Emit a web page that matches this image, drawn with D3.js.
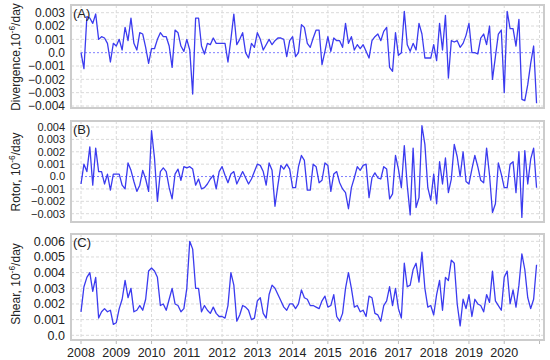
<!DOCTYPE html>
<html>
<head>
<meta charset="utf-8">
<script src="https://cdn.jsdelivr.net/npm/d3@7"></script>
<style>
body { margin: 0; background: #fff; }
svg text { font-family: "Liberation Sans", Arial, sans-serif; fill: #222; }
</style>
</head>
<body>
<svg id="chart" width="550" height="360"></svg>
<script>
// monthly values, Jan 2008 .. Dec 2020
var startYear = 2008;

var divergence = [
    0.0, -0.0012, 0.0027, 0.0026, 0.0022, 0.0029, 0.0010, 0.0012, 0.0011, 0.0007,
    -0.0007, 0.0007, 0.0005, 0.0010, 0.0002, 0.0019, 0.0009, 0.0026, 0.0007, 0.0002,
    0.0015, 0.0014, 0.0004, -0.0008, 0.0003, 0.0003, 0.0010, 0.0015, 0.0012, 0.0012,
    0.0005, -0.0011, 0.0017, 0.0015, 0.0005, 0.0001, 0.0010, 0.0002, -0.0031, 0.0026,
    0.0026, 0.0005, -0.0001, 0.0007, 0.0006, 0.0011, 0.0007, 0.0007, 0.0007, 0.0007,
    -0.0007, 0.0010, 0.0029, 0.0006, 0.0010, 0.0015, 0.0000, -0.0004, 0.0007, 0.0004,
    0.0015, 0.0010, 0.0002, 0.0006, 0.0010, 0.0006, 0.0009, 0.0011, 0.0011, 0.0010,
    -0.0003, 0.0009, 0.0012, -0.0003, 0.0000, 0.0021, 0.0019, 0.0007, 0.0004, 0.0011,
    0.0017, 0.0017, -0.0009, 0.0001, 0.0012, 0.0001, 0.0011, 0.0009, 0.0009, 0.0004,
    0.0022, 0.0007, 0.0012, 0.0002, 0.0006, 0.0003, 0.0006, 0.0001, -0.0004, 0.0009,
    0.0012, 0.0014, 0.0009, 0.0016, 0.0019, -0.0011, -0.0014, 0.0015, -0.0002, 0.0000,
    0.0031, 0.0006, 0.0001, 0.0007, 0.0002, 0.0022, 0.0014, -0.0004, -0.0004, -0.0004,
    0.0006, -0.0006, 0.0022, 0.0002, 0.0028, -0.0019, 0.0009, 0.0008, 0.0009, 0.0004,
    0.0007, 0.0013, 0.0022, 0.0000, 0.0000, -0.0001, 0.0011, 0.0014, 0.0006, 0.0020,
    -0.0020, -0.0003, 0.0014, 0.0017, -0.0030, 0.0031, 0.0018, 0.0018, 0.0005, 0.0025,
    -0.0035, -0.0036, -0.0024, -0.0008, 0.0005, -0.0038
];

var rotor = [
    -0.0006, 0.0010, 0.0004, 0.0024, -0.0007, 0.0023, 0.0004, 0.0004, -0.0006, 0.0002,
    -0.0011, 0.0002, 0.0002, 0.0002, -0.0007, -0.0010, 0.0011, 0.0005, -0.0004, -0.0012,
    -0.0007, 0.0005, -0.0002, -0.0012, 0.0037, 0.0015, -0.0020, 0.0004, 0.0007, 0.0004,
    -0.0009, -0.0018, 0.0002, 0.0006, -0.0003, 0.0008, 0.0007, 0.0008, 0.0006, -0.0007,
    -0.0002, -0.0010, -0.0009, -0.0006, -0.0002, 0.0001, -0.0010, 0.0004, 0.0008, 0.0001,
    -0.0005, 0.0002, 0.0004, -0.0006, -0.0001, 0.0004, -0.0001, -0.0006, -0.0002, 0.0004,
    0.0010, 0.0009, 0.0004, -0.0007, 0.0011, 0.0005, -0.0024, -0.0007, 0.0009, 0.0006,
    0.0010, 0.0006, -0.0009, -0.0009, 0.0008, 0.0017, 0.0013, -0.0011, -0.0011, 0.0010,
    0.0008, -0.0005, -0.0003, 0.0011, 0.0009, -0.0012, 0.0002, 0.0004, -0.0005, -0.0010,
    -0.0013, -0.0026, -0.0009, -0.0001, 0.0008, 0.0005, 0.0009, 0.0010, -0.0017, -0.0001,
    0.0003, -0.0001, -0.0002, 0.0008, 0.0006, -0.0018, -0.0014, 0.0017, 0.0006, -0.0009,
    0.0025, -0.0007, -0.0031, 0.0023, -0.0025, -0.0017, 0.0041, 0.0026, -0.0009, -0.0019,
    0.0002, -0.0022, 0.0012, -0.0006, 0.0015, -0.0013, -0.0002, 0.0026, 0.0016, 0.0000,
    0.0020, -0.0004, -0.0006, 0.0006, 0.0017, 0.0008, -0.0003, -0.0005, 0.0023, 0.0001,
    -0.0029, -0.0022, 0.0011, 0.0002, -0.0009, -0.0009, 0.0010, 0.0012, -0.0013, 0.0020,
    -0.0033, 0.0021, -0.0006, 0.0014, 0.0023, -0.0009
];

var shear = [
    0.0015, 0.0031, 0.0037, 0.0040, 0.0028, 0.0037, 0.0011, 0.0015, 0.0017, 0.0015,
    0.0016, 0.0007, 0.0008, 0.0017, 0.0023, 0.0035, 0.0024, 0.0030, 0.0015, 0.0016,
    0.0019, 0.0016, 0.0023, 0.0041, 0.0043, 0.0041, 0.0037, 0.0019, 0.0020, 0.0016,
    0.0023, 0.0030, 0.0020, 0.0019, 0.0015, 0.0017, 0.0030, 0.0060, 0.0055, 0.0030,
    0.0030, 0.0015, 0.0019, 0.0016, 0.0014, 0.0018, 0.0014, 0.0012, 0.0012, 0.0011,
    0.0019, 0.0040, 0.0032, 0.0009, 0.0013, 0.0019, 0.0018, 0.0016, 0.0010, 0.0011,
    0.0022, 0.0024, 0.0014, 0.0011, 0.0026, 0.0032, 0.0030, 0.0026, 0.0022, 0.0018,
    0.0016, 0.0020, 0.0020, 0.0017, 0.0020, 0.0029, 0.0024, 0.0023, 0.0019, 0.0019,
    0.0018, 0.0017, 0.0022, 0.0025, 0.0018, 0.0019, 0.0026, 0.0012, 0.0009, 0.0014,
    0.0030, 0.0040, 0.0030, 0.0018, 0.0019, 0.0015, 0.0016, 0.0012, 0.0025, 0.0024,
    0.0014, 0.0013, 0.0009, 0.0019, 0.0022, 0.0031, 0.0019, 0.0030, 0.0017, 0.0011,
    0.0046, 0.0031, 0.0032, 0.0042, 0.0046, 0.0034, 0.0053, 0.0030, 0.0018, 0.0019,
    0.0013, 0.0026, 0.0035, 0.0016, 0.0037, 0.0035, 0.0048, 0.0046, 0.0020, 0.0006,
    0.0023, 0.0017, 0.0026, 0.0012, 0.0023, 0.0020, 0.0019, 0.0015, 0.0026, 0.0021,
    0.0041, 0.0022, 0.0019, 0.0016, 0.0037, 0.0041, 0.0020, 0.0029, 0.0018, 0.0032,
    0.0052, 0.0042, 0.0024, 0.0017, 0.0023, 0.0045
];

var yearLabels = ['2008', '2009', '2010', '2011', '2012', '2013', '2014',
                  '2015', '2016', '2017', '2018', '2019', '2020'];
var gridYears = [2008, 2009, 2010, 2011, 2012, 2013, 2014, 2015, 2016, 2017, 2018, 2019, 2020, 2021];

var divTicks = [0.003, 0.002, 0.001, 0, -0.001, -0.002, -0.003, -0.004];
var rotTicks = [0.004, 0.003, 0.002, 0.001, 0, -0.001, -0.002, -0.003];
var shearTicks = [0.006, 0.005, 0.004, 0.003, 0.002, 0.001, 0];

var svg = d3.select('#chart');

var frameLeft = 71, frameRight = 544;
var x = d3.scaleLinear().domain([2008, 2021]).range([81, 539.5]);

var panels = [
    {values: divergence, ticks: divTicks, top: 5, bottom: 108, y0: 106, y1: 12.7, tickSize: 12,
     letter: '(A)', name: 'Divergence,10', zero: true, labelX: 20, labelY: 57},
    {values: rotor, ticks: rotTicks, top: 121, bottom: 222, y0: 213.7, y1: 127, tickSize: 11,
     letter: '(B)', name: 'Rotor, 10', zero: true, labelX: 20, labelY: 172},
    {values: shear, ticks: shearTicks, top: 234, bottom: 340, y0: 335.3, y1: 241.3, tickSize: 12.5,
     letter: '(C)', name: 'Shear, 10', zero: false, labelX: 20, labelY: 284}
];

var fmt = function (v) {
    if (v === 0) { return '0.0'; }
    return d3.format('.3f')(v);
};

panels.forEach(function (p) {
    var ext = d3.extent(p.ticks);
    var y = d3.scaleLinear().domain(ext).range([p.y0, p.y1]);
    var g = svg.append('g');

    // grid
    g.selectAll('.vgrid')
        .data(gridYears)
        .enter()
        .append('line')
        .attr('x1', function (d) { return x(d); })
        .attr('x2', function (d) { return x(d); })
        .attr('y1', p.top)
        .attr('y2', p.bottom)
        .attr('stroke', '#dadada')
        .attr('stroke-dasharray', '3,2');
    g.selectAll('.hgrid')
        .data(p.ticks.filter(function (d) { return !(p.zero && d === 0); }))
        .enter()
        .append('line')
        .attr('x1', frameLeft)
        .attr('x2', frameRight)
        .attr('y1', function (d) { return y(d); })
        .attr('y2', function (d) { return y(d); })
        .attr('stroke', '#dadada')
        .attr('stroke-dasharray', '3,2');

    if (p.zero) {
        g.append('line')
            .attr('x1', x(2008))
            .attr('x2', x(2021))
            .attr('y1', y(0))
            .attr('y2', y(0))
            .attr('stroke', '#7f7fff')
            .attr('stroke-dasharray', '2,2');
    }

    // frame
    g.append('rect')
        .attr('x', frameLeft)
        .attr('y', p.top)
        .attr('width', frameRight - frameLeft)
        .attr('height', p.bottom - p.top)
        .attr('fill', 'none')
        .attr('stroke', '#cccccc')
        .attr('stroke-width', 2);

    // tick labels
    g.selectAll('.ylab')
        .data(p.ticks)
        .enter()
        .append('text')
        .attr('x', 65)
        .attr('y', function (d) { return y(d); })
        .attr('dy', '0.35em')
        .attr('text-anchor', 'end')
        .attr('font-size', p.tickSize)
        .text(fmt);

    var line = d3.line()
        .x(function (d, i) { return x(startYear + i / 12); })
        .y(function (d) { return y(d); });
    g.append('path')
        .datum(p.values)
        .attr('d', line)
        .attr('fill', 'none')
        .attr('stroke', '#3b3bef')
        .attr('stroke-width', 1.3)
        .attr('stroke-linejoin', 'round');

    g.append('text')
        .attr('x', 73)
        .attr('y', p.top + 13)
        .attr('font-size', 13)
        .text(p.letter);

    var lab = g.append('text')
        .attr('transform', 'translate(' + p.labelX + ',' + p.labelY + ') rotate(-90)')
        .attr('text-anchor', 'middle')
        .attr('font-size', 12);
    lab.append('tspan').text(p.name);
    lab.append('tspan').attr('dy', -5).attr('font-size', 8.5).text('-6');
    lab.append('tspan').attr('dy', 5).text('/day');
});

// x axis under the last panel
svg.selectAll('.xtick')
    .data(gridYears)
    .enter()
    .append('line')
    .attr('x1', function (d) { return x(d); })
    .attr('x2', function (d) { return x(d); })
    .attr('y1', 341)
    .attr('y2', 344)
    .attr('stroke', '#bbbbbb');

svg.selectAll('.xlab')
    .data(yearLabels)
    .enter()
    .append('text')
    .attr('x', function (d) { return x(+d); })
    .attr('y', 357)
    .attr('text-anchor', 'middle')
    .attr('font-size', 12.5)
    .text(function (d) { return d; });
</script>
</body>
</html>
